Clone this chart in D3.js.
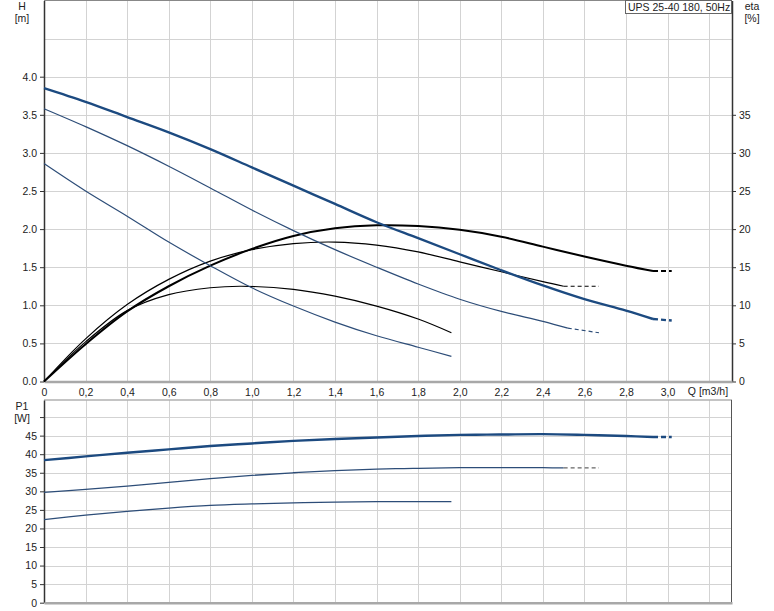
<!DOCTYPE html>
<html>
<head>
<meta charset="utf-8">
<script src="https://cdn.jsdelivr.net/npm/d3@7"></script>
<style>
  body { margin: 0; background: #fff; }
  svg { font-family: "Liberation Sans", Arial, sans-serif; }
  .tick text { fill: #222; font-size: 10.5px; }
</style>
</head>
<body>
<div id="chart"></div>
<script>
const width = 774;
const height = 611;

const title = 'UPS 25-40 180, 50Hz';

// flow ticks
const qTicks = [0, 0.2, 0.4, 0.6, 0.8, 1.0, 1.2, 1.4, 1.6, 1.8, 2.0, 2.2, 2.4, 2.6, 2.8, 3.0];
const qGrid = [0.2, 0.4, 0.6, 0.8, 1.0, 1.2, 1.4, 1.6, 1.8, 2.0, 2.2, 2.4, 2.6, 2.8, 3.0, 3.2];
const hTicks = [0, 0.5, 1.0, 1.5, 2.0, 2.5, 3.0, 3.5, 4.0];
const hGrid = [0.5, 1.0, 1.5, 2.0, 2.5, 3.0, 3.5, 4.0, 4.5];
const etaTicks = [0, 5, 10, 15, 20, 25, 30, 35];
const pTicks = [0, 5, 10, 15, 20, 25, 30, 35, 40, 45, 50];

// head curves [Q, H]
const hSpeed3 = [[0,3.85],[0.2,3.67],[0.4,3.47],[0.6,3.27],[0.8,3.05],[1.0,2.81],[1.2,2.57],[1.4,2.33],[1.6,2.09],[1.8,1.88],[2.0,1.67],[2.2,1.46],[2.4,1.26],[2.6,1.08],[2.8,0.93],[2.93,0.82]];
const hSpeed3Ext = [[2.93,0.82],[3.02,0.80]];
const hSpeed2 = [[0,3.58],[0.2,3.345],[0.4,3.095],[0.6,2.825],[0.8,2.54],[1.0,2.25],[1.2,1.98],[1.4,1.73],[1.6,1.50],[1.8,1.28],[2.0,1.08],[2.2,0.92],[2.4,0.79],[2.52,0.70]];
const hSpeed2Ext = [[2.52,0.70],[2.67,0.64]];
const hSpeed1 = [[0,2.86],[0.2,2.50],[0.4,2.17],[0.6,1.83],[0.8,1.52],[1.0,1.23],[1.2,0.99],[1.4,0.78],[1.6,0.60],[1.8,0.45],[1.96,0.33]];

// efficiency curves [Q, eta %]
const etaSpeed3 = [[0,0],[0.2,4.9],[0.4,9.2],[0.6,12.5],[0.8,15.2],[1.0,17.4],[1.2,19.1],[1.4,20.1],[1.6,20.5],[1.8,20.4],[2.0,19.9],[2.2,19.0],[2.4,17.7],[2.6,16.4],[2.8,15.2],[2.93,14.5]];
const etaSpeed3Ext = [[2.93,14.5],[3.02,14.5]];
const etaSpeed2 = [[0,0],[0.2,5.6],[0.4,10.1],[0.6,13.4],[0.8,15.8],[1.0,17.3],[1.2,18.1],[1.4,18.3],[1.6,17.9],[1.8,17.0],[2.0,15.7],[2.2,14.4],[2.4,13.1],[2.5,12.5]];
const etaSpeed2Ext = [[2.5,12.5],[2.67,12.5]];
const etaSpeed1 = [[0,0],[0.2,5.2],[0.4,9.3],[0.6,11.4],[0.8,12.3],[0.95,12.5],[1.2,12.1],[1.4,11.2],[1.6,9.9],[1.8,8.2],[1.96,6.4]];

// power curves [Q, P1 W]
const pSpeed3 = [[0,38.4],[0.2,39.4],[0.4,40.4],[0.6,41.3],[0.8,42.2],[1.0,42.9],[1.2,43.6],[1.4,44.1],[1.6,44.5],[1.8,44.9],[2.0,45.2],[2.2,45.3],[2.4,45.4],[2.6,45.2],[2.8,44.9],[2.93,44.65]];
const pSpeed3Ext = [[2.93,44.65],[3.02,44.65]];
const pSpeed2 = [[0,29.7],[0.2,30.5],[0.4,31.4],[0.6,32.4],[0.8,33.4],[1.0,34.3],[1.2,35.0],[1.4,35.6],[1.6,36.0],[1.8,36.2],[2.0,36.4],[2.2,36.4],[2.4,36.4],[2.5,36.3]];
const pSpeed2Ext = [[2.5,36.3],[2.67,36.3]];
const pSpeed1 = [[0,22.4],[0.2,23.6],[0.4,24.6],[0.6,25.5],[0.8,26.2],[1.0,26.6],[1.2,26.9],[1.4,27.1],[1.6,27.2],[1.8,27.25],[1.96,27.2]];

const left = 44, right = 732;
const top1 = 0.5, bottom1 = 381.5;
const top2 = 400, bottom2 = 602.7;

const blueThick = '#1c4a80';
const blueThin = '#2d4d78';

const svg = d3.select('#chart')
  .append('svg')
  .attr('width', width)
  .attr('height', height);

const x = d3.scaleLinear().domain([0, 3.31]).range([left, right]);
const yH = d3.scaleLinear().domain([0, 5]).range([bottom1, top1]);
const yEta = d3.scaleLinear().domain([0, 50]).range([bottom1, top1]);
const yP = d3.scaleLinear().domain([0, 54.6]).range([bottom2, top2]);

const fmtComma = d => d === 0 ? '0' : d3.format('.1f')(d).replace('.', ',');

// grids
function grid(yScale, yVals, y0, y1) {
  const g = svg.append('g').attr('stroke', '#d3d3d3').attr('stroke-width', 1);
  g.selectAll('.v').data(qGrid).enter().append('line')
    .attr('x1', d => Math.round(x(d)) + 0.5).attr('x2', d => Math.round(x(d)) + 0.5)
    .attr('y1', y0).attr('y2', y1);
  g.selectAll('.h').data(yVals).enter().append('line')
    .attr('x1', left).attr('x2', right)
    .attr('y1', d => Math.round(yScale(d)) + 0.5).attr('y2', d => Math.round(yScale(d)) + 0.5);
}
grid(yH, hGrid, top1, bottom1);
grid(yP, pTicks.filter(d => d > 0), top2, bottom2);

// frame lines
svg.append('line').attr('x1', left).attr('x2', right).attr('y1', top1).attr('y2', top1)
  .attr('stroke', '#888').attr('stroke-width', 1);
svg.append('line').attr('x1', left).attr('x2', right).attr('y1', top2).attr('y2', top2)
  .attr('stroke', '#b0b0b0').attr('stroke-width', 1.5);
svg.append('line').attr('x1', right - 0.5).attr('x2', right - 0.5).attr('y1', top2).attr('y2', bottom2)
  .attr('stroke', '#555').attr('stroke-width', 1);

// axes top panel
const hAxis = svg.append('g')
  .attr('transform', 'translate(' + left + ',0)')
  .call(d3.axisLeft(yH).tickValues(hTicks).tickFormat(d3.format('.1f')).tickSize(4).tickSizeOuter(0));
const etaAxis = svg.append('g')
  .attr('transform', 'translate(' + right + ',0)')
  .call(d3.axisRight(yEta).tickValues(etaTicks).tickSize(4).tickSizeOuter(0));
const qAxis = svg.append('g')
  .attr('transform', 'translate(0,' + bottom1 + ')')
  .call(d3.axisBottom(x).tickValues(qTicks).tickFormat(fmtComma).tickSize(0).tickPadding(5).tickSizeOuter(0));

const pAxis = svg.append('g')
  .attr('transform', 'translate(' + left + ',0)')
  .call(d3.axisLeft(yP).tickValues(pTicks).tickFormat(d => d === 50 ? '' : d).tickSize(4).tickSizeOuter(0));
const pBottom = svg.append('g')
  .attr('transform', 'translate(0,' + bottom2 + ')')
  .call(d3.axisBottom(x).tickValues([]).tickSize(0).tickSizeOuter(0));

[hAxis, etaAxis, pAxis].forEach(a => {
  a.select('.domain').attr('stroke', '#333').attr('stroke-width', 1.5);
  a.selectAll('.tick line').attr('stroke', '#333');
});
[qAxis, pBottom].forEach(a => {
  a.select('.domain').attr('stroke', '#a8a8a8').attr('stroke-width', 2.5);
});
qAxis.selectAll('.tick text').attr('dy', '0.9em');

// axis titles
function label(txt, tx, ty, anchor) {
  svg.append('text').attr('x', tx).attr('y', ty).attr('text-anchor', anchor || 'middle')
    .attr('font-size', '10.5px').attr('fill', '#222').text(txt);
}
label('H', 22, 10);
label('[m]', 22, 22);
label('eta', 752, 10);
label('[%]', 752, 22);
label('P1', 22, 410);
label('[W]', 22, 422);
label('Q [m3/h]', 708, 395);

// title box
svg.append('rect').attr('x', 625.5).attr('y', 0.5).attr('width', 106).attr('height', 13)
  .attr('fill', '#fff').attr('stroke', '#666').attr('stroke-width', 1);
label(title, 628, 11, 'start');

// curves
const curve = d3.curveCatmullRom.alpha(0.5);
const lineH = d3.line().x(d => x(d[0])).y(d => yH(d[1])).curve(curve);
const lineEta = d3.line().x(d => x(d[0])).y(d => yEta(d[1])).curve(curve);
const lineP = d3.line().x(d => x(d[0])).y(d => yP(d[1])).curve(curve);

function draw(gen, data, color, w, dash) {
  svg.append('path').datum(data)
    .attr('d', gen)
    .attr('fill', 'none')
    .attr('stroke', color)
    .attr('stroke-width', w)
    .attr('stroke-dasharray', dash || null);
}

draw(lineEta, etaSpeed1, '#000', 1.2);
draw(lineEta, etaSpeed2, '#000', 1.2);
draw(lineEta, etaSpeed2Ext, '#000', 1.2, '4,3');
draw(lineEta, etaSpeed3, '#000', 2);
draw(lineEta, etaSpeed3Ext, '#000', 2, '5,3');

draw(lineH, hSpeed1, blueThin, 1.2);
draw(lineH, hSpeed2, blueThin, 1.2);
draw(lineH, hSpeed2Ext, blueThin, 1.2, '4,3');
draw(lineH, hSpeed3, blueThick, 2.4);
draw(lineH, hSpeed3Ext, blueThick, 2.4, '5,3');

draw(lineP, pSpeed1, blueThin, 1.3);
draw(lineP, pSpeed2, blueThin, 1.3);
draw(lineP, pSpeed2Ext, '#666', 1.2, '4,3');
draw(lineP, pSpeed3, blueThick, 2.4);
draw(lineP, pSpeed3Ext, blueThick, 2.4, '5,3');
</script>
</body>
</html>
